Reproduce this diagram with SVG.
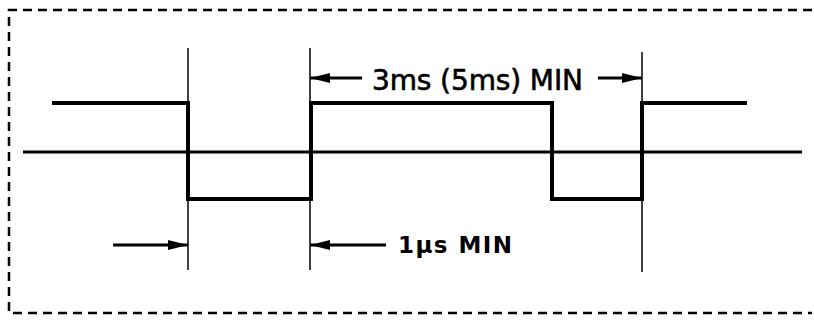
<svg xmlns="http://www.w3.org/2000/svg" width="814" height="323" viewBox="0 0 814 323">
<defs>
<style>
.border{fill:none;stroke:#000;stroke-width:2.5;stroke-dasharray:9 6}
.sig{fill:none;stroke:#000;stroke-width:4;stroke-linejoin:miter}
.axis{fill:none;stroke:#000;stroke-width:3}
.ext{fill:none;stroke:#000;stroke-width:1.5}
.dim{fill:none;stroke:#000;stroke-width:3;marker-end:url(#ah)}
.lbl{font-family:"DejaVu Sans","Liberation Sans",Arial,sans-serif;fill:#000}
</style>
<marker id="ah" viewBox="0 0 20 10" refX="20" refY="5" markerWidth="20" markerHeight="10" markerUnits="userSpaceOnUse" orient="auto">
<path d="M0,0 L20,5 L0,10 Z" fill="#000"/>
</marker>
</defs>
<rect width="814" height="323" fill="#fff"/>
<g id="border">
<polyline class="border" points="812,10 9,10 9,313 812,313"/>
</g>
<g id="axis">
<line class="axis" x1="23" y1="152" x2="802" y2="152"/>
</g>
<g id="signal">
<polyline class="sig" points="52,103 188,103 188,199 311,199 311,103 552,103 552,199 642,199 642,103 747,103"/>
</g>
<g id="connectors">
<line class="ext" x1="188" y1="48" x2="188" y2="270"/>
<line class="ext" x1="310" y1="48" x2="310" y2="270"/>
<line class="ext" x1="642" y1="52" x2="642" y2="272"/>
<line class="dim" x1="362" y1="78" x2="310" y2="78"/>
<line class="dim" x1="598" y1="78" x2="642" y2="78"/>
<line class="dim" x1="113" y1="245" x2="188" y2="245"/>
<line class="dim" x1="386" y1="245" x2="310" y2="245"/>
</g>
<g id="label-3ms">
<text class="lbl" x="372" y="90" font-size="28" stroke="#000" stroke-width="0.6" textLength="211" lengthAdjust="spacing">3ms (5ms) MIN</text>
</g>
<g id="label-1us">
<text class="lbl" x="398" y="253" font-size="23" font-weight="bold" textLength="114" lengthAdjust="spacing">1µs MIN</text>
</g>
</svg>
